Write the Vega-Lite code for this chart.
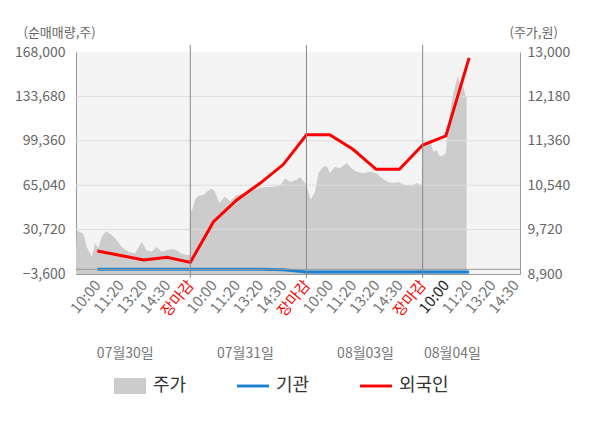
{
  "$schema": "https://vega.github.io/schema/vega-lite/v6.json",
  "width": 444,
  "height": 222,
  "autosize": {"type": "none"},
  "padding": {"left": 76, "top": 52, "right": 80, "bottom": 154},
  "background": "#ffffff",
  "config": {
    "font": "Noto Sans CJK KR",
    "view": {"fill": "#f4f4f4", "stroke": null}
  },
  "datasets": {
    "price": [
      {"s": 0.08, "p": 9330}, {"s": 0.12, "p": 9700}, {"s": 0.4, "p": 9650}, {"s": 0.54, "p": 9400},
      {"s": 0.76, "p": 9220}, {"s": 0.9, "p": 9470}, {"s": 1.04, "p": 9380}, {"s": 1.19, "p": 9590},
      {"s": 1.37, "p": 9690}, {"s": 1.62, "p": 9620}, {"s": 1.83, "p": 9530}, {"s": 2.05, "p": 9400},
      {"s": 2.33, "p": 9310}, {"s": 2.62, "p": 9280}, {"s": 2.91, "p": 9490}, {"s": 3.12, "p": 9340},
      {"s": 3.34, "p": 9310}, {"s": 3.55, "p": 9400}, {"s": 3.77, "p": 9310}, {"s": 3.98, "p": 9340},
      {"s": 4.2, "p": 9360}, {"s": 4.41, "p": 9340}, {"s": 4.63, "p": 9280}, {"s": 4.85, "p": 9250},
      {"s": 4.99, "p": 9250}, {"s": 5.02, "p": 10110}, {"s": 5.06, "p": 10050}, {"s": 5.2, "p": 10270},
      {"s": 5.34, "p": 10340}, {"s": 5.56, "p": 10360}, {"s": 5.71, "p": 10420}, {"s": 5.92, "p": 10480},
      {"s": 6.06, "p": 10420}, {"s": 6.25, "p": 10210}, {"s": 6.49, "p": 10330}, {"s": 6.71, "p": 10240},
      {"s": 7.0, "p": 10360}, {"s": 7.43, "p": 10390}, {"s": 7.78, "p": 10460}, {"s": 8.14, "p": 10500},
      {"s": 8.57, "p": 10510}, {"s": 8.86, "p": 10530}, {"s": 9.08, "p": 10670}, {"s": 9.29, "p": 10600},
      {"s": 9.58, "p": 10640}, {"s": 9.72, "p": 10690}, {"s": 9.94, "p": 10580}, {"s": 10.0, "p": 10540},
      {"s": 10.18, "p": 10270}, {"s": 10.37, "p": 10420}, {"s": 10.51, "p": 10760}, {"s": 10.72, "p": 10880},
      {"s": 10.87, "p": 10890}, {"s": 11.01, "p": 10760}, {"s": 11.23, "p": 10880}, {"s": 11.44, "p": 10850},
      {"s": 11.73, "p": 10950}, {"s": 11.95, "p": 10850}, {"s": 12.16, "p": 10790}, {"s": 12.44, "p": 10760},
      {"s": 12.73, "p": 10790}, {"s": 13.02, "p": 10760}, {"s": 13.24, "p": 10670}, {"s": 13.52, "p": 10600},
      {"s": 13.74, "p": 10580}, {"s": 13.95, "p": 10600}, {"s": 14.24, "p": 10540}, {"s": 14.53, "p": 10530},
      {"s": 14.74, "p": 10580}, {"s": 14.96, "p": 10540}, {"s": 15.01, "p": 11250}, {"s": 15.17, "p": 11310},
      {"s": 15.31, "p": 11390}, {"s": 15.46, "p": 11160}, {"s": 15.6, "p": 11190}, {"s": 15.74, "p": 11070},
      {"s": 15.89, "p": 11100}, {"s": 16.0, "p": 11130}, {"s": 16.06, "p": 11500}, {"s": 16.17, "p": 11870},
      {"s": 16.32, "p": 12240}, {"s": 16.43, "p": 12420}, {"s": 16.51, "p": 12560}, {"s": 16.61, "p": 12420},
      {"s": 16.75, "p": 12360}, {"s": 16.86, "p": 12170}, {"s": 16.89, "p": 12170}
    ],
    "flow": [
      {"s": 1, "who": "기관", "v": 0}, {"s": 2, "who": "기관", "v": 0}, {"s": 3, "who": "기관", "v": 0},
      {"s": 4, "who": "기관", "v": 0}, {"s": 5, "who": "기관", "v": 0}, {"s": 6, "who": "기관", "v": 0},
      {"s": 7, "who": "기관", "v": 0}, {"s": 8, "who": "기관", "v": 0}, {"s": 9, "who": "기관", "v": -400},
      {"s": 10, "who": "기관", "v": -2000}, {"s": 11, "who": "기관", "v": -2100}, {"s": 12, "who": "기관", "v": -2100},
      {"s": 13, "who": "기관", "v": -2100}, {"s": 14, "who": "기관", "v": -2100}, {"s": 15, "who": "기관", "v": -2100},
      {"s": 16, "who": "기관", "v": -2100}, {"s": 17, "who": "기관", "v": -2100},
      {"s": 1, "who": "외국인", "v": 14200}, {"s": 2, "who": "외국인", "v": 10700}, {"s": 3, "who": "외국인", "v": 7200},
      {"s": 4, "who": "외국인", "v": 9300}, {"s": 5, "who": "외국인", "v": 5400}, {"s": 6, "who": "외국인", "v": 36800},
      {"s": 7, "who": "외국인", "v": 53600}, {"s": 8, "who": "외국인", "v": 66500}, {"s": 9, "who": "외국인", "v": 81000},
      {"s": 10, "who": "외국인", "v": 104000}, {"s": 11, "who": "외국인", "v": 104000}, {"s": 12, "who": "외국인", "v": 92800},
      {"s": 13, "who": "외국인", "v": 77300}, {"s": 14, "who": "외국인", "v": 77300}, {"s": 15, "who": "외국인", "v": 96100},
      {"s": 16, "who": "외국인", "v": 103100}, {"s": 17, "who": "외국인", "v": 163500}
    ],
    "days": [{"s": 5}, {"s": 10}, {"s": 15}],
    "grid": [{"t": 30720}, {"t": 65040}, {"t": 99360}, {"t": 133680}]
  },
  "layer": [
    {
      "data": {"name": "price"},
      "mark": {"type": "area", "opacity": 1},
      "encoding": {
        "x": {
          "field": "s",
          "type": "quantitative",
          "scale": {"domain": [0.08, 19.19], "nice": false, "zero": false},
          "axis": {
            "orient": "bottom",
            "values": [1, 2, 3, 4, 5, 6, 7, 8, 9, 10, 11, 12, 13, 14, 15, 16, 17, 18, 19],
            "labelExpr": "['장마감','10:00','11:20','13:20','14:30'][datum.value % 5]",
            "labelAngle": -50,
            "labelAlign": "right",
            "labelBaseline": "middle",
            "labelFontSize": 15,
            "labelColor": {
              "condition": [
                {"test": "datum.value % 5 === 0", "value": "#ff0000"},
                {"test": "datum.value === 16", "value": "#222222"}
              ],
              "value": "#777777"
            },
            "labelOverlap": false,
            "labelFlush": false,
            "labelBound": false,
            "labelPadding": 8,
            "ticks": false,
            "grid": false,
            "domainColor": "#999999",
            "title": null
          }
        },
        "y": {
          "field": "p",
          "type": "quantitative",
          "scale": {"domain": [8900, 13000], "nice": false, "zero": false},
          "axis": {
            "orient": "right",
            "values": [8900, 9720, 10540, 11360, 12180, 13000],
            "format": ",.0f",
            "grid": false,
            "ticks": false,
            "labelPadding": 7,
            "labelFontSize": 14,
            "labelColor": "#666666",
            "domainColor": "#999999",
            "title": "(주가,원)",
            "titleAngle": 0,
            "titleX": -11,
            "titleY": -20,
            "titleAlign": "left",
            "titleBaseline": "middle",
            "titleFontSize": 13,
            "titleFontWeight": "normal",
            "titleColor": "#666666"
          }
        },
        "y2": {"datum": 8900},
        "color": {
          "datum": "주가",
          "type": "nominal",
          "scale": {"domain": ["주가", "기관", "외국인"], "range": ["#cccccc", "#1b80cf", "#ff0000"]},
          "legend": {
            "orient": "none",
            "legendX": 38,
            "legendY": 318,
            "direction": "horizontal",
            "title": null,
            "symbolSize": 1024,
            "symbolType": "M-1,-0.5H1V0.5H-1Z",
            "labelFontSize": 18,
            "labelColor": "#333333",
            "labelOffset": 7,
            "columnPadding": 50,
            "encode": {
              "symbols": {
                "update": {
                  "shape": {"signal": "datum.label === '주가' ? 'M-1,-0.5H1V0.5H-1Z' : 'M-1,-0.09H1V0.09H-1Z'"},
                  "fill": {"scale": "color", "field": "value"},
                  "stroke": {"value": "transparent"},
                  "strokeWidth": {"value": 0}
                }
              }
            }
          }
        }
      }
    },
    {
      "data": {"name": "grid"},
      "mark": {"type": "rule", "color": "#dddddd", "strokeWidth": 1},
      "encoding": {
        "y": {"field": "t", "type": "quantitative", "scale": {"domain": [-3600, 168000], "nice": false, "zero": false}, "axis": null}
      }
    },
    {
      "data": {"name": "flow"},
      "mark": {"type": "line", "strokeWidth": 3},
      "encoding": {
        "x": {
          "field": "s",
          "type": "quantitative",
          "scale": {"domain": [0.08, 19.19], "nice": false, "zero": false},
          "axis": {
            "orient": "bottom",
            "values": [2.18, 7.35, 12.52, 16.26],
            "labelExpr": "datum.value < 5 ? '07월30일' : datum.value < 10 ? '07월31일' : datum.value < 15 ? '08월03일' : '08월04일'",
            "labelAngle": 0,
            "labelAlign": "center",
            "labelBaseline": "top",
            "labelFontSize": 14,
            "labelColor": "#777777",
            "labelPadding": 72,
            "labelOverlap": false,
            "labelFlush": false,
            "ticks": false,
            "domain": false,
            "grid": false,
            "title": null
          }
        },
        "y": {
          "field": "v",
          "type": "quantitative",
          "scale": {"domain": [-3600, 168000], "nice": false, "zero": false},
          "axis": {
            "orient": "left",
            "values": [-3600, 30720, 65040, 99360, 133680, 168000],
            "format": ",.0f",
            "grid": false,
            "ticks": false,
            "labelPadding": 11,
            "labelFontSize": 14,
            "labelColor": "#666666",
            "domainColor": "#999999",
            "title": "(순매매량,주)",
            "titleAngle": 0,
            "titleX": -53,
            "titleY": -20,
            "titleAlign": "left",
            "titleBaseline": "middle",
            "titleFontSize": 13,
            "titleFontWeight": "normal",
            "titleColor": "#666666"
          }
        },
        "color": {
          "field": "who",
          "type": "nominal",
          "scale": {"domain": ["주가", "기관", "외국인"], "range": ["#cccccc", "#1b80cf", "#ff0000"]},
          "legend": {
            "orient": "none",
            "legendX": 38,
            "legendY": 318,
            "direction": "horizontal",
            "title": null,
            "symbolSize": 1024,
            "symbolType": "M-1,-0.5H1V0.5H-1Z",
            "labelFontSize": 18,
            "labelColor": "#333333",
            "labelOffset": 7,
            "columnPadding": 50,
            "encode": {
              "symbols": {
                "update": {
                  "shape": {"signal": "datum.label === '주가' ? 'M-1,-0.5H1V0.5H-1Z' : 'M-1,-0.09H1V0.09H-1Z'"},
                  "fill": {"scale": "color", "field": "value"},
                  "stroke": {"value": "transparent"},
                  "strokeWidth": {"value": 0}
                }
              }
            }
          }
        }
      }
    },
    {
      "data": {"name": "days"},
      "mark": {"type": "rule", "color": "#888888", "strokeWidth": 1},
      "encoding": {
        "x": {"field": "s", "type": "quantitative", "scale": {"domain": [0.08, 19.19], "nice": false, "zero": false}, "axis": null},
        "y": {"datum": 173400, "type": "quantitative", "scale": {"domain": [-3600, 168000], "nice": false, "zero": false}, "axis": null},
        "y2": {"datum": -6700}
      }
    },
    {
      "data": {"values": [{"v": 0}]},
      "mark": {"type": "rule", "color": "#999999", "strokeWidth": 1},
      "encoding": {
        "y": {"field": "v", "type": "quantitative", "scale": {"domain": [-3600, 168000], "nice": false, "zero": false}, "axis": null}
      }
    }
  ],
  "resolve": {"scale": {"y": "independent"}, "axis": {"x": "independent"}}
}
